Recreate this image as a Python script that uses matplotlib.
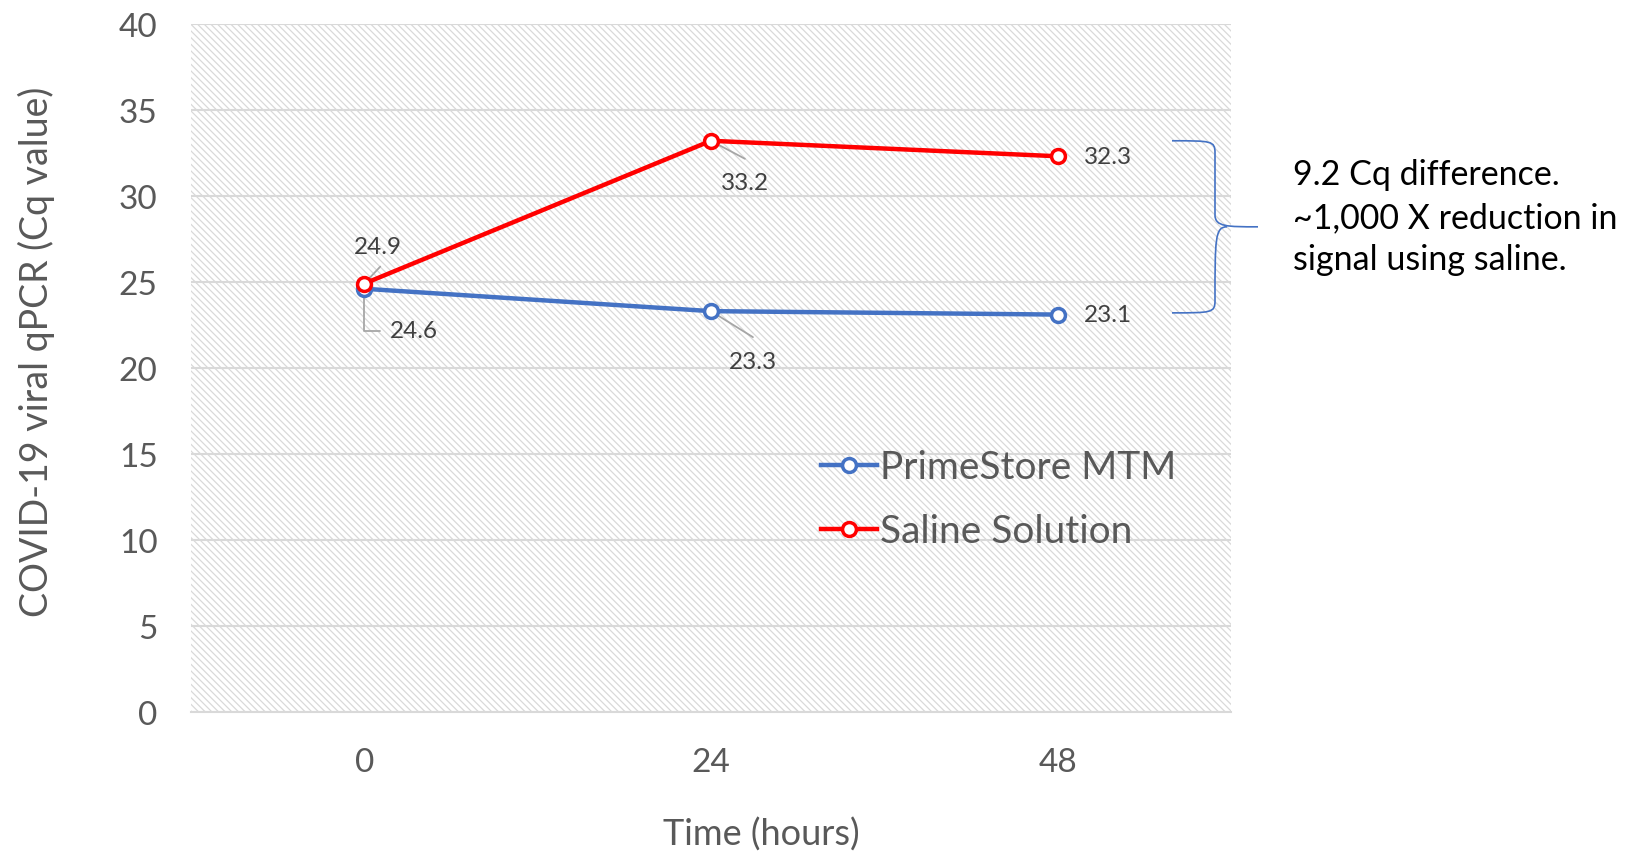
import numpy as np
import matplotlib
matplotlib.use('Agg')
import matplotlib.pyplot as plt
from matplotlib.path import Path
from matplotlib.patches import PathPatch, Rectangle

plt.rcParams.update({
    'font.family': ['Lato', 'DejaVu Sans'],
    'hatch.color': '#d4d4d4',
    'hatch.linewidth': 0.9,
})

# ── data ──────────────────────────────────────────────────────────────────────
times = ['0', '24', '48']
primestore = [24.6, 23.3, 23.1]
saline = [24.9, 33.2, 32.3]
series_names = ['PrimeStore MTM', 'Saline Solution']
note = '9.2 Cq difference.\n~1,000 X reduction in\nsignal using saline.'

BLUE = '#4472C4'
RED = '#FF0000'
GREY_TXT = '#595959'
GRID = '#d9d9d9'

fig = plt.figure(figsize=(16.25, 8.54), dpi=100)
ax = fig.add_axes([0.1175, 0.165, 0.640, 0.806])

x = np.arange(len(times))
ax.set_xlim(-0.5, len(times) - 0.5)
ax.set_ylim(0, 40)

# hatched plot area
ax.add_patch(Rectangle((0, 0), 1, 1, transform=ax.transAxes, facecolor='white',
                       edgecolor=GRID, hatch='\\\\\\\\\\', lw=0, zorder=0))

ax.set_yticks(np.arange(0, 41, 5))
ax.set_xticks(x)
ax.set_xticklabels(times)
ax.grid(axis='y', color=GRID, lw=1.5, zorder=1)
ax.set_axisbelow(True)
for s in ['top', 'right', 'left']:
    ax.spines[s].set_visible(False)
ax.spines['bottom'].set_color(GRID)
ax.spines['bottom'].set_linewidth(1.5)
ax.tick_params(length=0, labelsize=24, labelcolor=GREY_TXT)
ax.tick_params(axis='x', pad=25)
ax.tick_params(axis='y', pad=24)

ax.set_ylabel('COVID-19 viral qPCR (Cq value)', fontsize=27, color=GREY_TXT)
ax.yaxis.set_label_coords(-0.131, 0.525)
ax.set_xlabel('Time (hours)', fontsize=26, color=GREY_TXT)
ax.xaxis.set_label_coords(0.548, -0.152)

mk = dict(marker='o', ms=10, mfc='white', mew=2.5, lw=3.2, zorder=4)
ax.plot(x, primestore, color=BLUE, label=series_names[0], **mk)
ax.plot(x, saline, color=RED, label=series_names[1], **mk)

# data labels (offsets in pixels)
lab = dict(fontsize=17.5, color='#404040', textcoords='offset pixels', zorder=5)
lead = dict(arrowstyle='-', color='#a6a6a6', lw=1.3, shrinkA=0, shrinkB=0)

def leader(xi, v, dx, dy, cs='arc3'):
    ax.annotate('', xy=(xi, v), xytext=(dx, dy), textcoords='offset pixels',
                arrowprops=dict(lead, connectionstyle=cs), zorder=3)

# saline
leader(x[0], saline[0], 16, 17)
ax.annotate(f'{saline[0]}', (x[0], saline[0]), xytext=(14, 37), ha='center', va='center', **lab)
leader(x[1], saline[1], 34, -18)
ax.annotate(f'{saline[1]}', (x[1], saline[1]), xytext=(34, -42), ha='center', va='center', **lab)
ax.annotate(f'{saline[2]}', (x[2], saline[2]), xytext=(26, 0), ha='left', va='center', **lab)
# primestore
leader(x[0], primestore[0], 16, -42, cs='angle,angleA=0,angleB=90,rad=0')
ax.annotate(f'{primestore[0]}', (x[0], primestore[0]), xytext=(50, -42), ha='center', va='center', **lab)
leader(x[1], primestore[1], 42, -26)
ax.annotate(f'{primestore[1]}', (x[1], primestore[1]), xytext=(42, -50), ha='center', va='center', **lab)
ax.annotate(f'{primestore[2]}', (x[2], primestore[2]), xytext=(26, 0), ha='left', va='center', **lab)

leg = ax.legend(loc='upper left', bbox_to_anchor=(0.587, 0.41), frameon=False,
                fontsize=28, labelcolor=GREY_TXT, handlelength=1.45,
                handletextpad=0.08, labelspacing=0.72, borderpad=0)

# curly brace spanning the two series at 48 h
trans = ax.transData
def to_fig(xd, yd):
    px = trans.transform((xd, yd))
    return fig.transFigure.inverted().transform(px)

fig.canvas.draw()
_, ytop = to_fig(x[2], saline[1])
_, ybot = to_fig(x[2], primestore[2] + 0.1)
W, H = fig.get_size_inches() * fig.dpi
xl = 1172 / W
xv = 1215 / W
xt = 1258 / W
ym = (ytop + ybot) / 2
r = 12 / W
ry = 12 / H
verts = [
    (xl, ytop), (xv - r * 0.3, ytop), (xv, ytop), (xv, ytop - ry),
    (xv, ym + ry), (xv, ym), (xv + r, ym), (xt, ym),
    (xv + r, ym), (xv, ym), (xv, ym - ry),
    (xv, ybot + ry), (xv, ybot), (xv - r * 0.3, ybot), (xl, ybot),
]
codes = [Path.MOVETO, Path.CURVE4, Path.CURVE4, Path.CURVE4,
         Path.LINETO, Path.CURVE4, Path.CURVE4, Path.LINETO,
         Path.MOVETO, Path.CURVE4, Path.CURVE4,
         Path.LINETO, Path.CURVE4, Path.CURVE4, Path.CURVE4]
fig.add_artist(PathPatch(Path(verts, codes), transform=fig.transFigure,
                         fc='none', ec=BLUE, lw=1.2))

fig.text(1293 / W, ym + 10 / H, note, fontsize=24.5, color='black', ha='left', va='center',
         linespacing=1.4)

fig.savefig('out.png', dpi=100, facecolor='white')
